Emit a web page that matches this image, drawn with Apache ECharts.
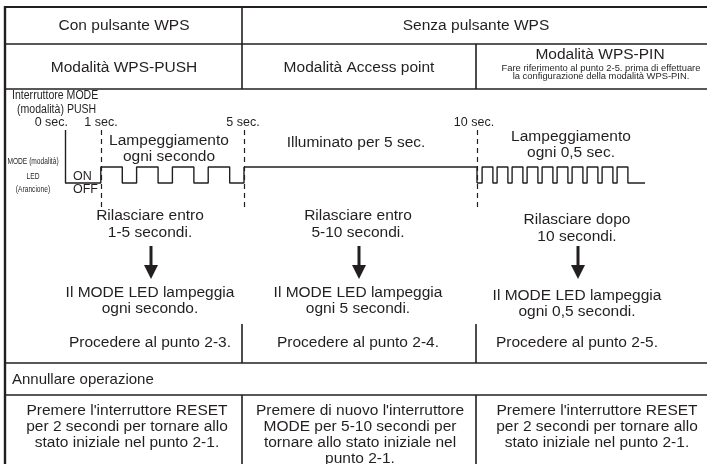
<!DOCTYPE html>
<html>
<head>
<meta charset="utf-8">
<script src="https://cdn.jsdelivr.net/npm/echarts@6/dist/echarts.min.js"></script>
<style>html,body{margin:0;padding:0;background:#fff}#c{width:707px;height:464px}</style>
</head>
<body>
<div id="c"></div>
<script>
// ---------- data ----------
const headerRow1 = ['Con pulsante WPS', 'Senza pulsante WPS'];
const modeTitles = ['Modalità WPS-PUSH', 'Modalità Access point', 'Modalità WPS-PIN'];
const pinNote = ['Fare riferimento al punto 2-5. prima di effettuare', 'la configurazione della modalità WPS-PIN.'];
const switchLabel = ['Interruttore MODE', '(modalità) PUSH'];
const ledLabel = ['MODE (modalità)', 'LED', '(Arancione)'];
const levelLabels = ['ON', 'OFF'];
const timeTicks = [0, 1, 5, 10];
const timeTickLabels = ['0 sec.', '1 sec.', '5 sec.', '10 sec.'];
const phaseLabels = [['Lampeggiamento', 'ogni secondo'], ['Illuminato per 5 sec.'], ['Lampeggiamento', 'ogni 0,5 sec.']];
// LED level transitions [seconds, level] (1 = ON, 0 = OFF)
const ledBlink1s = [[0,0],[1,1],[1.6,0],[2,1],[2.6,0],[3,1],[3.6,0],[4,1],[4.6,0],[5,1]];
const ledSteady = [[5,1],[10,0]];
const ledBlink05s = [[10,0],[10.17,1],[10.53,0],[10.67,1],[11.03,0],[11.17,1],[11.53,0],[11.67,1],[12.03,0],
  [12.17,1],[12.53,0],[12.67,1],[13.03,0],[13.17,1],[13.53,0],[13.67,1],[14.03,0],[14.17,1],[14.53,0],
  [14.67,1],[15.03,0],[15.6,0]];
const releaseTexts = [['Rilasciare entro', '1-5 secondi.'], ['Rilasciare entro', '5-10 secondi.'], ['Rilasciare dopo', '10 secondi.']];
const resultTexts = [['Il MODE LED lampeggia', 'ogni secondo.'], ['Il MODE LED lampeggia', 'ogni 5 secondi.'], ['Il MODE LED lampeggia', 'ogni 0,5 secondi.']];
const nextTexts = ['Procedere al punto 2-3.', 'Procedere al punto 2-4.', 'Procedere al punto 2-5.'];
const cancelTitle = 'Annullare operazione';
const cancelTexts = [
  ["Premere l'interruttore RESET", 'per 2 secondi per tornare allo', 'stato iniziale nel punto 2-1.'],
  ["Premere di nuovo l'interruttore", 'MODE per 5-10 secondi per', 'tornare allo stato iniziale nel', 'punto 2-1.'],
  ["Premere l'interruttore RESET", 'per 2 secondi per tornare allo', 'stato iniziale nel punto 2-1.']
];

// ---------- layout ----------
const INK = '#231f20';
const FONT = '"Liberation Sans", Arial, sans-serif';
const W = 707;
const L = 5, TOP = 7;
const C1 = 242, C2 = 476;
const yMin = -1.5, yMax = 3.3125;
const segs = [
  {min: 0, max: 5, left: 65, width: 179},
  {min: 5, max: 10, left: 244, width: 233},
  {min: 10, max: 16, left: 477, width: 180}
];
const gTop = 130, gH = 77;

const g = [];
function line(x1, y1, x2, y2, w) {
  g.push({type: 'line', silent: true, shape: {x1, y1, x2, y2}, style: {stroke: INK, lineWidth: w || 1.5}});
}
function text(t, x, y, size, align, sx) {
  g.push({type: 'text', silent: true, x, y, scaleX: sx || 1,
    style: {text: t, fill: INK, font: size + 'px ' + FONT, align: align || 'center', verticalAlign: 'middle'}});
}

// table frame
line(L, TOP, W + 5, TOP, 2.2);
line(L, TOP - 1, L, 470, 2.4);
line(L, 44, W + 5, 44, 1.6);
line(L, 89, W + 5, 89, 1.6);
line(C1, TOP, C1, 89, 1.6);
line(C2, 44, C2, 89, 1.6);
line(C1, 324, C1, 363, 1.6);
line(C2, 324, C2, 363, 1.6);
line(L, 363, W + 5, 363, 1.6);
line(L, 395, W + 5, 395, 1.6);
line(C1, 395, C1, 470, 1.6);
line(C2, 395, C2, 470, 1.6);

// headers
text(headerRow1[0], 124, 26, 15.5);
text(headerRow1[1], 476, 26, 15.5);
text(modeTitles[0], 124, 68, 15.5);
text(modeTitles[1], 359, 68, 15.5);
text(modeTitles[2], 600, 55, 15.5);
text(pinNote[0], 601, 68, 9.4);
text(pinNote[1], 601, 76, 9.4);

// timing diagram labels
text(switchLabel[0], 12, 96, 12, 'left', 0.88);
text(switchLabel[1], 17, 110, 12, 'left', 0.88);
const tickX = [68, 101, 243, 474];
text(timeTickLabels[0], tickX[0], 123, 12.5, 'right');
for (let i = 1; i < timeTickLabels.length; i++) text(timeTickLabels[i], tickX[i], 123, 12.5);
text(phaseLabels[0][0], 169, 141, 15.5);
text(phaseLabels[0][1], 169, 157, 15.5);
text(phaseLabels[1][0], 356, 143, 15.5);
text(phaseLabels[2][0], 571, 137, 15.5);
text(phaseLabels[2][1], 571, 153, 15.5);
text(ledLabel[0], 33, 162, 8.5, 'center', 0.78);
text(ledLabel[1], 33, 177, 8.5, 'center', 0.78);
text(ledLabel[2], 33, 190, 8.5, 'center', 0.78);
text(levelLabels[0], 73, 177, 12.5, 'left');
text(levelLabels[1], 73, 190, 12.5, 'left');

// body columns
const colX = [150, 358, 577];
const relY = [[216, 233], [216, 233], [220, 237]];
const resY = [[293, 309], [293, 309], [296, 312]];
for (let i = 0; i < 3; i++) {
  text(releaseTexts[i][0], colX[i], relY[i][0], 15.5);
  text(releaseTexts[i][1], colX[i], relY[i][1], 15.5);
  const ax = colX[i] + 1;
  g.push({type: 'rect', silent: true, shape: {x: ax - 1.5, y: 246, width: 3, height: 21}, style: {fill: INK}});
  g.push({type: 'polygon', silent: true, shape: {points: [[ax - 7, 265], [ax + 7, 265], [ax, 279]]}, style: {fill: INK}});
  text(resultTexts[i][0], colX[i], resY[i][0], 15.5);
  text(resultTexts[i][1], colX[i], resY[i][1], 15.5);
  text(nextTexts[i], colX[i], 343, 15.5);
}
text(cancelTitle, 12, 380, 15, 'left');
const cancelX = [127, 360, 597];
for (let i = 0; i < 3; i++) {
  cancelTexts[i].forEach((t, j) => text(t, cancelX[i], 411 + j * 16, 15.5));
}

// ---------- chart ----------
const grids = segs.map(s => ({left: s.left, top: gTop, width: s.width, height: gH}));
const xAxes = segs.map((s, i) => ({type: 'value', gridIndex: i, min: s.min, max: s.max, show: false}));
const yAxes = segs.map((s, i) => ({type: 'value', gridIndex: i, min: yMin, max: yMax, show: false}));
const wave = {color: INK, width: 1.4};
const dashed = {color: INK, width: 1.2, type: [5, 4]};
const series = [
  {type: 'line', xAxisIndex: 0, yAxisIndex: 0, data: ledBlink1s, step: 'end', symbol: 'none', lineStyle: wave,
   markLine: {silent: true, symbol: 'none', label: {show: false},
     data: [
       [{coord: [timeTicks[0], 0], lineStyle: {color: INK, width: 1.4, type: 'solid'}}, {coord: [timeTicks[0], yMax]}],
       {xAxis: timeTicks[1], lineStyle: dashed},
       {xAxis: timeTicks[2], lineStyle: dashed}
     ]}},
  {type: 'line', xAxisIndex: 1, yAxisIndex: 1, data: ledSteady, step: 'end', symbol: 'none', lineStyle: wave},
  {type: 'line', xAxisIndex: 2, yAxisIndex: 2, data: ledBlink05s, step: 'end', symbol: 'none', lineStyle: wave,
   markLine: {silent: true, symbol: 'none', label: {show: false},
     data: [{xAxis: timeTicks[3], lineStyle: dashed}]}}
];

const chart = echarts.init(document.getElementById('c'), null, {renderer: 'canvas', width: 707, height: 464});
chart.setOption({
  animation: false,
  grid: grids, xAxis: xAxes, yAxis: yAxes, series,
  graphic: g
});
</script>
</body>
</html>
